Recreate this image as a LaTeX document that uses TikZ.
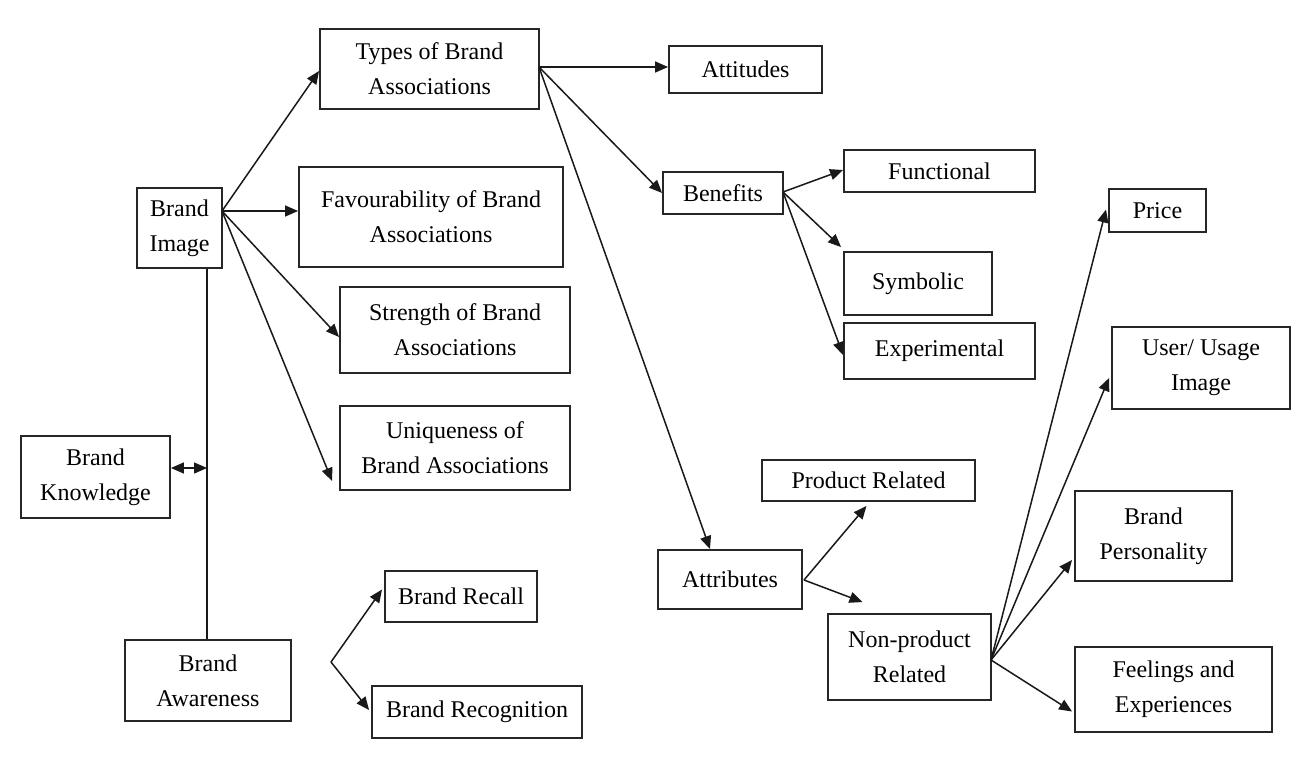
\documentclass[tikz,border=0pt]{standalone}
\usepackage{fontspec}
\setmainfont{Liberation Serif}
\usetikzlibrary{arrows.meta}
\begin{document}
\begin{tikzpicture}[x=1pt,y=-1pt,
  box/.style={draw=black!85, line width=1.9pt, align=center, inner sep=0pt,
    font=\fontsize{24}{35}\selectfont},
  tip/.tip={Triangle[length=13pt,width=11pt]},
  link/.style={draw=black!90, line width=1.5pt, -tip},
  plain/.style={draw=black!90, line width=1.5pt}]
\useasboundingbox[fill=white] (0,0) rectangle (1292,760);

% left column
\node[box, minimum width=85, minimum height=80] (bi) at (179.5,228) {Brand\\Image};
\node[box, minimum width=149, minimum height=82] (bk) at (95.5,477) {Brand\\Knowledge};
\node[box, minimum width=166, minimum height=81] (ba) at (208,680.5) {Brand\\Awareness};

% brand image branches
\node[box, minimum width=219, minimum height=80] (types) at (429.5,69) {Types of Brand\\Associations};
\node[box, minimum width=264, minimum height=100] (fav) at (431,217) {Favourability of Brand\\Associations};
\node[box, minimum width=230, minimum height=86] (str) at (455,330) {Strength of Brand\\Associations};
\node[box, minimum width=230, minimum height=84] (uni) at (455,448) {Uniqueness of\\Brand Associations};

% brand awareness branches
\node[box, minimum width=152, minimum height=51] (recall) at (461,596.5) {Brand Recall};
\node[box, minimum width=210, minimum height=52] (recog) at (477,712) {Brand Recognition};

% types of associations
\node[box, minimum width=153, minimum height=47] (att) at (745.5,69.5) {Attitudes};
\node[box, minimum width=120, minimum height=42] (ben) at (723,193) {Benefits};
\node[box, minimum width=144, minimum height=59] (attr) at (730,579.5) {Attributes};

% benefits
\node[box, minimum width=191, minimum height=42] (fun) at (939.5,171) {Functional};
\node[box, minimum width=148, minimum height=63] (sym) at (918,283.5) {Symbolic};
\node[box, minimum width=191, minimum height=56] (exp) at (939.5,351) {Experimental};

% attributes
\node[box, minimum width=213, minimum height=41] (prod) at (868.5,480.5) {Product Related};
\node[box, minimum width=163, minimum height=86] (nonprod) at (909.5,657) {Non-product\\Related};

% non-product related
\node[box, minimum width=97, minimum height=43] (price) at (1157.5,210.5) {Price};
\node[box, minimum width=178, minimum height=82] (user) at (1201,368) {User/ Usage\\Image};
\node[box, minimum width=157, minimum height=90] (pers) at (1153.5,536) {Brand\\Personality};
\node[box, minimum width=197, minimum height=85] (feel) at (1173.5,689.5) {Feelings and\\Experiences};

% junction points
\coordinate (biout) at (222,211);
\coordinate (vl) at (207,468);
\coordinate (rj) at (331,662);
\coordinate (tyout) at (539,67);
\coordinate (benout) at (783,192);
\coordinate (attrout) at (804,580);
\coordinate (npout) at (991,660);

% spine between image and awareness
\draw[plain] (vl |- bi.south) -- (vl |- ba.north);
\draw[plain, tip-tip] (bk.east |- vl) -- (vl);

% brand image arrows
\draw[link] (biout) -- ([yshift=-2pt]types.west);
\draw[link] (biout) -- (fav.west |- biout);
\draw[link] (biout) -- ([yshift=-7pt]str.west);
\draw[link] (biout) -- ([xshift=-7pt,yshift=10pt]uni.south west);

% awareness arrows
\draw[link] (rj) -- ([xshift=-2pt,yshift=7pt]recall.west);
\draw[link] (rj) -- ([xshift=-2pt,yshift=2pt]recog.west);

% types arrows
\draw[link] (tyout) -- (att.west |- tyout);
\draw[link] (tyout) -- (ben.west);
\draw[link] (tyout) -- ([xshift=-20pt]attr.north);

% benefits arrows
\draw[link] (benout) -- ([yshift=1pt]fun.west);
\draw[link] (benout) -- ([xshift=-2pt,yshift=4pt]sym.north west);
\draw[link] (benout) -- ([yshift=-4pt]exp.west);

% attributes arrows
\draw[link] (attrout) -- ([xshift=-2pt,yshift=-4pt]prod.south);
\draw[link] (attrout) -- ([xshift=-47pt,yshift=11pt]nonprod.north);

% non-product related arrows
\draw[link] (npout) -- ([xshift=-2pt,yshift=1pt]price.west);
\draw[link] (npout) -- ([xshift=-2pt,yshift=-10pt]user.west);
\draw[link] (npout) -- ([xshift=-2pt,yshift=-24pt]pers.west);
\draw[link] (npout) -- ([xshift=-2pt,yshift=-22pt]feel.west);
\end{tikzpicture}
\end{document}
